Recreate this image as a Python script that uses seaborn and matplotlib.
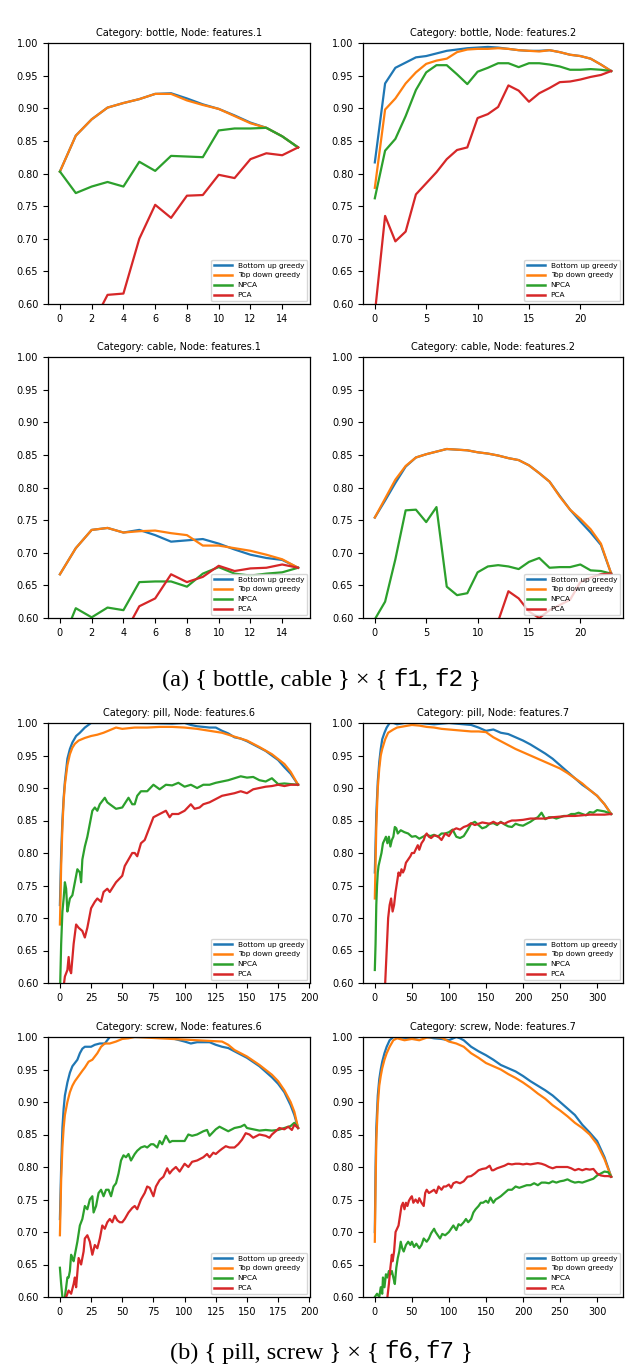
import matplotlib
matplotlib.use("Agg")
import matplotlib.pyplot as plt
import numpy as np
import pandas as pd
import seaborn as sns
from matplotlib.offsetbox import TextArea, HPacker, AnnotationBbox
from matplotlib.ticker import MultipleLocator, FormatStrFormatter

methods = ["Bottom up greedy", "Top down greedy", "NPCA", "PCA"]
colors = ["#1f77b4", "#ff7f0e", "#2ca02c", "#d62728"]

# ---------------- (a) bottle / cable, features.1 / features.2 ----------------
bottle1_bu = [0.803, 0.858, 0.883, 0.901, 0.908, 0.914, 0.922, 0.923, 0.915, 0.906, 0.899, 0.889, 0.878, 0.870, 0.857, 0.840]
bottle1_td = [0.803, 0.858, 0.883, 0.901, 0.908, 0.914, 0.922, 0.922, 0.912, 0.905, 0.899, 0.888, 0.877, 0.870, 0.857, 0.840]
bottle1_npca = [0.803, 0.770, 0.780, 0.787, 0.780, 0.818, 0.804, 0.827, 0.826, 0.825, 0.866, 0.869, 0.869, 0.870, 0.857, 0.840]
bottle1_pca = [0.500, 0.540, 0.567, 0.614, 0.616, 0.700, 0.752, 0.732, 0.766, 0.767, 0.798, 0.793, 0.822, 0.831, 0.828, 0.840]

bottle2_bu = [0.817, 0.938, 0.962, 0.970, 0.978, 0.980, 0.984, 0.988, 0.990, 0.992, 0.993, 0.994, 0.993, 0.991, 0.989, 0.988, 0.988, 0.989, 0.986, 0.982, 0.980, 0.976, 0.967, 0.957]
bottle2_td = [0.778, 0.898, 0.915, 0.938, 0.955, 0.968, 0.973, 0.976, 0.986, 0.990, 0.991, 0.991, 0.992, 0.991, 0.989, 0.988, 0.987, 0.989, 0.986, 0.982, 0.980, 0.976, 0.967, 0.957]
bottle2_npca = [0.762, 0.835, 0.853, 0.888, 0.928, 0.955, 0.966, 0.966, 0.952, 0.937, 0.956, 0.962, 0.969, 0.969, 0.963, 0.969, 0.969, 0.967, 0.964, 0.959, 0.959, 0.960, 0.959, 0.957]
bottle2_pca = [0.585, 0.735, 0.696, 0.711, 0.768, 0.785, 0.802, 0.822, 0.836, 0.840, 0.885, 0.891, 0.902, 0.935, 0.927, 0.910, 0.923, 0.931, 0.940, 0.941, 0.944, 0.948, 0.951, 0.957]

cable1_bu = [0.667, 0.707, 0.735, 0.738, 0.731, 0.735, 0.727, 0.717, 0.719, 0.721, 0.714, 0.705, 0.697, 0.692, 0.689, 0.677]
cable1_td = [0.667, 0.707, 0.735, 0.738, 0.731, 0.733, 0.734, 0.730, 0.727, 0.711, 0.711, 0.707, 0.703, 0.697, 0.690, 0.677]
cable1_npca = [0.555, 0.615, 0.601, 0.616, 0.612, 0.655, 0.656, 0.656, 0.648, 0.668, 0.678, 0.668, 0.665, 0.668, 0.670, 0.677]
cable1_pca = [0.500, 0.520, 0.540, 0.550, 0.573, 0.618, 0.630, 0.667, 0.655, 0.663, 0.680, 0.672, 0.676, 0.677, 0.682, 0.677]

cable2_bu = [0.754, 0.780, 0.807, 0.832, 0.846, 0.851, 0.855, 0.859, 0.858, 0.857, 0.854, 0.852, 0.849, 0.845, 0.842, 0.834, 0.822, 0.809, 0.787, 0.766, 0.748, 0.731, 0.712, 0.668]
cable2_td = [0.754, 0.783, 0.812, 0.833, 0.846, 0.851, 0.855, 0.859, 0.858, 0.857, 0.854, 0.852, 0.849, 0.845, 0.842, 0.834, 0.822, 0.809, 0.786, 0.766, 0.752, 0.736, 0.714, 0.668]
cable2_npca = [0.598, 0.625, 0.690, 0.765, 0.766, 0.747, 0.770, 0.648, 0.635, 0.638, 0.670, 0.679, 0.681, 0.679, 0.675, 0.686, 0.692, 0.677, 0.678, 0.678, 0.682, 0.673, 0.672, 0.668]
cable2_pca = [0.480, 0.500, 0.510, 0.520, 0.530, 0.540, 0.550, 0.560, 0.560, 0.570, 0.570, 0.580, 0.595, 0.641, 0.630, 0.610, 0.600, 0.612, 0.620, 0.628, 0.655, 0.662, 0.667, 0.668]

# ---------------- (b) pill / screw, features.6 / features.7 ----------------
pill6_bu = [(0, 0.72), (1, 0.80), (2, 0.85), (3, 0.885), (4, 0.91), (6, 0.945), (8, 0.96), (10, 0.97), (13, 0.98), (16, 0.985),
            (20, 0.993), (25, 1.0), (30, 1.0), (60, 1.0), (90, 0.999), (100, 1.0), (105, 0.997), (110, 0.995), (115, 0.994),
            (120, 0.993), (125, 0.993), (130, 0.988), (135, 0.984), (140, 0.978), (145, 0.976), (150, 0.972), (155, 0.967),
            (160, 0.962), (165, 0.957), (170, 0.950), (175, 0.943), (180, 0.932), (185, 0.922), (191, 0.905)]
pill6_td = [(0, 0.69), (1, 0.78), (2, 0.84), (3, 0.88), (4, 0.905), (6, 0.935), (8, 0.952), (10, 0.962), (12, 0.968), (15, 0.973),
            (20, 0.977), (25, 0.980), (30, 0.982), (35, 0.985), (40, 0.989), (45, 0.993), (50, 0.991), (55, 0.992), (60, 0.993),
            (70, 0.993), (80, 0.994), (90, 0.994), (100, 0.993), (110, 0.991), (120, 0.988), (130, 0.985), (140, 0.979),
            (150, 0.973), (160, 0.963), (170, 0.952), (180, 0.937), (185, 0.925), (191, 0.905)]
pill6_npca = [(0, 0.58), (1, 0.66), (2, 0.71), (3, 0.73), (4, 0.755), (5, 0.745), (6, 0.71), (7, 0.72), (8, 0.73), (10, 0.735),
              (12, 0.755), (14, 0.775), (16, 0.77), (17, 0.755), (18, 0.79), (20, 0.81), (22, 0.825), (24, 0.845), (26, 0.865),
              (28, 0.87), (30, 0.865), (32, 0.875), (34, 0.88), (36, 0.885), (38, 0.878), (40, 0.875), (45, 0.868), (50, 0.87),
              (55, 0.885), (58, 0.875), (60, 0.875), (62, 0.888), (65, 0.895), (70, 0.895), (75, 0.905), (80, 0.898),
              (85, 0.905), (90, 0.904), (95, 0.908), (100, 0.902), (105, 0.905), (110, 0.900), (115, 0.905), (120, 0.905),
              (125, 0.908), (130, 0.910), (135, 0.912), (140, 0.915), (145, 0.918), (150, 0.916), (155, 0.917), (160, 0.912),
              (165, 0.910), (170, 0.915), (175, 0.906), (180, 0.907), (185, 0.906), (191, 0.905)]
pill6_pca = [(0, 0.55), (2, 0.58), (4, 0.61), (6, 0.62), (7, 0.64), (8, 0.62), (9, 0.615), (11, 0.66), (13, 0.69), (15, 0.685),
             (18, 0.68), (20, 0.67), (22, 0.685), (25, 0.715), (28, 0.725), (30, 0.73), (33, 0.725), (35, 0.74), (38, 0.745),
             (40, 0.74), (45, 0.755), (50, 0.765), (52, 0.78), (55, 0.79), (58, 0.80), (60, 0.80), (62, 0.795), (65, 0.815),
             (68, 0.82), (70, 0.83), (72, 0.84), (75, 0.855), (80, 0.86), (85, 0.865), (88, 0.855), (90, 0.86), (95, 0.86),
             (100, 0.865), (105, 0.875), (108, 0.868), (112, 0.87), (115, 0.875), (120, 0.878), (125, 0.883), (130, 0.888),
             (135, 0.89), (140, 0.892), (145, 0.895), (150, 0.892), (155, 0.898), (160, 0.900), (165, 0.902), (170, 0.903),
             (175, 0.905), (180, 0.903), (185, 0.905), (191, 0.905)]

pill7_bu = [(0, 0.77), (2, 0.86), (4, 0.91), (6, 0.94), (8, 0.96), (10, 0.975), (13, 0.985), (16, 0.993), (20, 1.0), (25, 1.0),
            (30, 0.998), (40, 1.0), (60, 1.0), (80, 0.998), (100, 1.0), (120, 0.998), (130, 0.997), (140, 0.993), (150, 0.988),
            (160, 0.990), (170, 0.985), (180, 0.983), (190, 0.978), (200, 0.973), (210, 0.967), (220, 0.960), (230, 0.953),
            (240, 0.945), (250, 0.935), (260, 0.925), (270, 0.915), (280, 0.905), (290, 0.897), (300, 0.888), (310, 0.875),
            (319, 0.860)]
pill7_td = [(0, 0.73), (2, 0.84), (4, 0.90), (6, 0.93), (8, 0.95), (10, 0.96), (14, 0.975), (18, 0.985), (25, 0.99), (30, 0.993),
            (40, 0.995), (50, 0.997), (60, 0.996), (70, 0.994), (80, 0.993), (90, 0.991), (100, 0.990), (110, 0.989),
            (120, 0.988), (130, 0.987), (140, 0.987), (150, 0.986), (160, 0.978), (170, 0.972), (180, 0.966), (190, 0.960),
            (200, 0.955), (210, 0.950), (220, 0.945), (230, 0.940), (240, 0.935), (250, 0.930), (260, 0.923), (270, 0.915),
            (280, 0.907), (290, 0.897), (300, 0.888), (310, 0.875), (319, 0.860)]
pill7_npca = [(0, 0.62), (1, 0.66), (2, 0.72), (3, 0.75), (4, 0.77), (5, 0.78), (7, 0.79), (9, 0.80), (11, 0.815), (13, 0.82),
              (15, 0.825), (17, 0.815), (19, 0.825), (21, 0.81), (23, 0.82), (25, 0.825), (27, 0.84), (29, 0.838), (31, 0.83),
              (35, 0.835), (40, 0.832), (45, 0.83), (50, 0.825), (55, 0.826), (60, 0.822), (65, 0.825), (70, 0.828),
              (75, 0.826), (80, 0.828), (85, 0.825), (90, 0.83), (95, 0.83), (100, 0.832), (105, 0.836), (110, 0.825),
              (115, 0.823), (120, 0.826), (125, 0.835), (130, 0.845), (135, 0.848), (140, 0.843), (145, 0.838), (150, 0.84),
              (155, 0.845), (160, 0.846), (165, 0.843), (170, 0.848), (175, 0.844), (180, 0.841), (185, 0.84), (190, 0.845),
              (195, 0.843), (200, 0.842), (205, 0.845), (210, 0.848), (215, 0.852), (220, 0.855), (225, 0.862), (230, 0.852),
              (235, 0.855), (240, 0.855), (245, 0.853), (250, 0.855), (255, 0.857), (260, 0.857), (265, 0.86), (270, 0.86),
              (275, 0.862), (280, 0.86), (285, 0.858), (290, 0.863), (295, 0.862), (300, 0.866), (305, 0.865), (310, 0.864),
              (315, 0.862), (319, 0.86)]
pill7_pca = [(0, 0.45), (5, 0.50), (10, 0.56), (14, 0.60), (16, 0.65), (18, 0.70), (20, 0.72), (22, 0.73), (24, 0.71),
             (26, 0.72), (28, 0.74), (30, 0.755), (32, 0.77), (34, 0.765), (36, 0.775), (38, 0.77), (40, 0.775), (42, 0.785),
             (45, 0.79), (48, 0.795), (50, 0.80), (53, 0.80), (55, 0.805), (58, 0.812), (60, 0.805), (63, 0.815), (66, 0.82),
             (68, 0.827), (70, 0.83), (73, 0.825), (76, 0.823), (80, 0.827), (85, 0.826), (90, 0.82), (95, 0.83), (100, 0.826),
             (105, 0.835), (110, 0.838), (115, 0.836), (120, 0.84), (125, 0.842), (130, 0.846), (135, 0.843), (140, 0.845),
             (145, 0.847), (150, 0.846), (155, 0.845), (160, 0.848), (165, 0.845), (170, 0.847), (175, 0.845), (180, 0.848),
             (185, 0.85), (190, 0.85), (200, 0.851), (210, 0.853), (220, 0.853), (230, 0.853), (240, 0.855), (250, 0.856),
             (260, 0.857), (270, 0.857), (280, 0.858), (290, 0.859), (300, 0.859), (310, 0.859), (319, 0.86)]

screw6_bu = [(0, 0.72), (1, 0.80), (2, 0.86), (3, 0.89), (4, 0.91), (6, 0.93), (8, 0.945), (10, 0.955), (12, 0.96), (14, 0.965),
             (16, 0.975), (18, 0.982), (20, 0.985), (25, 0.985), (28, 0.988), (32, 0.99), (36, 0.99), (40, 1.0), (60, 1.0),
             (80, 1.0), (90, 0.998), (100, 0.993), (105, 0.99), (110, 0.992), (120, 0.992), (125, 0.988), (130, 0.985),
             (135, 0.983), (140, 0.978), (150, 0.968), (160, 0.955), (170, 0.938), (175, 0.928), (180, 0.915), (185, 0.895),
             (188, 0.88), (191, 0.86)]
screw6_td = [(0, 0.695), (1, 0.78), (2, 0.83), (3, 0.86), (4, 0.88), (6, 0.90), (8, 0.915), (10, 0.925), (12, 0.932), (15, 0.94),
             (18, 0.948), (20, 0.953), (23, 0.962), (26, 0.965), (30, 0.975), (33, 0.985), (36, 0.99), (40, 0.99), (45, 0.993),
             (50, 0.997), (55, 0.998), (60, 1.0), (70, 0.999), (80, 0.998), (90, 0.997), (100, 0.996), (110, 0.995),
             (120, 0.994), (130, 0.993), (135, 0.988), (140, 0.98), (150, 0.97), (160, 0.957), (170, 0.942), (175, 0.932),
             (180, 0.918), (185, 0.90), (188, 0.885), (191, 0.86)]
screw6_npca = [(0, 0.645), (1, 0.62), (2, 0.60), (3, 0.58), (4, 0.60), (5, 0.615), (6, 0.63), (7, 0.63), (8, 0.64), (9, 0.665),
               (10, 0.66), (11, 0.655), (12, 0.665), (14, 0.685), (16, 0.71), (18, 0.72), (20, 0.74), (22, 0.735), (24, 0.75),
               (26, 0.755), (27, 0.73), (29, 0.74), (31, 0.76), (33, 0.765), (35, 0.755), (37, 0.765), (39, 0.765),
               (41, 0.755), (43, 0.77), (45, 0.775), (47, 0.79), (49, 0.81), (51, 0.818), (53, 0.815), (55, 0.82), (57, 0.81),
               (60, 0.82), (62, 0.825), (65, 0.83), (68, 0.832), (70, 0.83), (73, 0.835), (75, 0.835), (78, 0.83), (80, 0.84),
               (82, 0.835), (85, 0.848), (88, 0.838), (90, 0.84), (95, 0.84), (100, 0.84), (103, 0.85), (106, 0.848),
               (110, 0.85), (115, 0.855), (118, 0.857), (120, 0.848), (125, 0.858), (128, 0.862), (130, 0.86), (135, 0.855),
               (140, 0.86), (145, 0.862), (148, 0.865), (150, 0.86), (155, 0.858), (160, 0.856), (165, 0.857), (170, 0.856),
               (175, 0.857), (180, 0.86), (185, 0.863), (188, 0.868), (191, 0.86)]
screw6_pca = [(0, 0.55), (3, 0.58), (5, 0.60), (7, 0.61), (9, 0.605), (11, 0.62), (12, 0.63), (13, 0.615), (15, 0.66), (17, 0.65),
              (19, 0.67), (20, 0.69), (22, 0.695), (24, 0.685), (26, 0.665), (28, 0.68), (30, 0.675), (32, 0.69), (34, 0.71),
              (36, 0.705), (38, 0.715), (40, 0.72), (42, 0.715), (44, 0.725), (46, 0.718), (48, 0.715), (50, 0.715),
              (52, 0.72), (55, 0.73), (58, 0.737), (60, 0.74), (62, 0.735), (65, 0.75), (68, 0.76), (70, 0.77), (72, 0.768),
              (75, 0.755), (77, 0.77), (80, 0.78), (83, 0.785), (86, 0.798), (88, 0.79), (90, 0.795), (93, 0.80), (96, 0.793),
              (100, 0.805), (103, 0.80), (106, 0.808), (110, 0.81), (115, 0.815), (118, 0.82), (120, 0.815), (123, 0.822),
              (125, 0.82), (128, 0.825), (130, 0.828), (133, 0.832), (136, 0.83), (140, 0.83), (143, 0.835), (146, 0.842),
              (149, 0.852), (152, 0.85), (155, 0.845), (158, 0.848), (160, 0.85), (165, 0.848), (168, 0.845), (170, 0.85),
              (173, 0.855), (176, 0.86), (180, 0.858), (183, 0.862), (186, 0.857), (188, 0.865), (191, 0.86)]

screw7_bu = [(0, 0.70), (1, 0.80), (2, 0.86), (4, 0.91), (6, 0.935), (8, 0.95), (10, 0.962), (13, 0.975), (16, 0.985), (20, 0.995),
             (25, 1.0), (50, 0.998), (60, 1.0), (70, 1.0), (80, 0.998), (90, 0.997), (100, 0.995), (110, 1.0), (115, 0.998),
             (120, 0.995), (130, 0.985), (140, 0.978), (150, 0.972), (160, 0.965), (170, 0.957), (180, 0.952), (190, 0.947),
             (200, 0.94), (210, 0.932), (220, 0.925), (230, 0.918), (240, 0.91), (250, 0.90), (260, 0.89), (270, 0.88),
             (280, 0.865), (290, 0.853), (300, 0.84), (310, 0.815), (319, 0.785)]
screw7_td = [(0, 0.685), (1, 0.77), (2, 0.84), (4, 0.895), (6, 0.925), (8, 0.94), (10, 0.952), (13, 0.965), (16, 0.975),
             (20, 0.985), (25, 0.995), (30, 0.998), (40, 0.995), (50, 0.997), (60, 0.995), (70, 0.999), (80, 1.0), (90, 0.999),
             (100, 0.993), (110, 0.99), (120, 0.985), (130, 0.975), (140, 0.968), (150, 0.96), (160, 0.955), (170, 0.95),
             (180, 0.943), (190, 0.937), (200, 0.93), (210, 0.922), (220, 0.913), (230, 0.905), (240, 0.895), (250, 0.887),
             (260, 0.878), (270, 0.868), (280, 0.86), (290, 0.85), (300, 0.835), (310, 0.812), (319, 0.785)]
screw7_npca = [(0, 0.60), (3, 0.605), (6, 0.60), (8, 0.615), (10, 0.605), (11, 0.63), (13, 0.615), (15, 0.635), (17, 0.63),
               (19, 0.64), (21, 0.635), (23, 0.64), (25, 0.63), (27, 0.62), (29, 0.645), (31, 0.66), (33, 0.67), (35, 0.685),
               (37, 0.675), (39, 0.67), (42, 0.68), (45, 0.685), (48, 0.68), (50, 0.685), (53, 0.677), (56, 0.682), (60, 0.675),
               (63, 0.68), (66, 0.69), (70, 0.685), (73, 0.69), (76, 0.698), (80, 0.705), (82, 0.70), (85, 0.695), (88, 0.69),
               (91, 0.697), (95, 0.695), (100, 0.70), (103, 0.705), (106, 0.71), (110, 0.703), (113, 0.712), (116, 0.71),
               (120, 0.715), (123, 0.72), (126, 0.715), (130, 0.72), (133, 0.73), (136, 0.735), (140, 0.74), (143, 0.745),
               (146, 0.745), (150, 0.748), (153, 0.745), (156, 0.753), (160, 0.745), (163, 0.75), (166, 0.752), (170, 0.755),
               (175, 0.76), (180, 0.765), (185, 0.765), (190, 0.77), (195, 0.768), (200, 0.77), (205, 0.772), (210, 0.772),
               (215, 0.775), (220, 0.772), (225, 0.776), (230, 0.776), (235, 0.775), (240, 0.778), (245, 0.776), (250, 0.778),
               (255, 0.779), (260, 0.781), (265, 0.778), (270, 0.776), (275, 0.777), (280, 0.776), (285, 0.778), (290, 0.78),
               (295, 0.782), (300, 0.787), (305, 0.79), (310, 0.793), (315, 0.792), (319, 0.785)]
screw7_pca = [(0, 0.45), (10, 0.55), (17, 0.60), (19, 0.62), (21, 0.645), (23, 0.665), (24, 0.655), (26, 0.67), (28, 0.70),
              (30, 0.705), (32, 0.71), (34, 0.725), (36, 0.74), (38, 0.745), (40, 0.735), (42, 0.745), (44, 0.74), (46, 0.748),
              (48, 0.752), (50, 0.755), (52, 0.745), (55, 0.75), (58, 0.745), (60, 0.752), (63, 0.745), (66, 0.74), (68, 0.76),
              (70, 0.765), (73, 0.76), (76, 0.762), (80, 0.765), (83, 0.76), (86, 0.77), (90, 0.765), (93, 0.77), (96, 0.77),
              (100, 0.773), (103, 0.768), (106, 0.775), (110, 0.777), (115, 0.775), (120, 0.778), (125, 0.785), (130, 0.786),
              (135, 0.79), (140, 0.795), (145, 0.797), (150, 0.798), (155, 0.802), (158, 0.795), (160, 0.795), (165, 0.798),
              (170, 0.80), (175, 0.802), (180, 0.805), (185, 0.804), (190, 0.805), (195, 0.805), (200, 0.804), (205, 0.805),
              (210, 0.804), (215, 0.805), (220, 0.806), (225, 0.805), (230, 0.803), (235, 0.80), (240, 0.798), (245, 0.80),
              (250, 0.80), (255, 0.80), (260, 0.80), (265, 0.798), (270, 0.795), (275, 0.797), (280, 0.795), (285, 0.797),
              (290, 0.796), (295, 0.797), (300, 0.79), (305, 0.787), (310, 0.786), (315, 0.786), (319, 0.785)]


def long_frame(series):
    """series: list (in method order) of y-lists or (x, y)-point lists."""
    parts = []
    for name, s in zip(methods, series):
        if isinstance(s[0], tuple):
            xs, ys = zip(*s)
        else:
            ys = s
            xs = range(len(s))
        parts.append(pd.DataFrame({"k": list(xs), "auc": list(ys), "method": name}))
    return pd.concat(parts, ignore_index=True)


W, H = 626, 1365
fig = plt.figure(figsize=(W / 100, H / 100), dpi=100)
fig.patch.set_facecolor("white")

cols = [(48, 310), (363, 623)]
rows = [(43, 304), (357, 618), (723, 983), (1037, 1297)]


def make_ax(r, c):
    x0, x1 = cols[c]
    y0, y1 = rows[r]
    return fig.add_axes([x0 / W, 1 - y1 / H, (x1 - x0) / W, (y1 - y0) / H])


panels = [
    (0, 0, "Category: bottle, Node: features.1", [bottle1_bu, bottle1_td, bottle1_npca, bottle1_pca], 2),
    (0, 1, "Category: bottle, Node: features.2", [bottle2_bu, bottle2_td, bottle2_npca, bottle2_pca], 5),
    (1, 0, "Category: cable, Node: features.1", [cable1_bu, cable1_td, cable1_npca, cable1_pca], 2),
    (1, 1, "Category: cable, Node: features.2", [cable2_bu, cable2_td, cable2_npca, cable2_pca], 5),
    (2, 0, "Category: pill, Node: features.6", [pill6_bu, pill6_td, pill6_npca, pill6_pca], 25),
    (2, 1, "Category: pill, Node: features.7", [pill7_bu, pill7_td, pill7_npca, pill7_pca], 50),
    (3, 0, "Category: screw, Node: features.6", [screw6_bu, screw6_td, screw6_npca, screw6_pca], 25),
    (3, 1, "Category: screw, Node: features.7", [screw7_bu, screw7_td, screw7_npca, screw7_pca], 50),
]

for r, c, title, series, xstep in panels:
    ax = make_ax(r, c)
    df = long_frame(series)
    sns.lineplot(data=df, x="k", y="auc", hue="method", hue_order=methods,
                 palette=colors, estimator=None, linewidth=1.6, ax=ax)
    ax.set_ylim(0.6, 1.0)
    ax.set_yticks(np.arange(0.60, 1.001, 0.05))
    ax.yaxis.set_major_formatter(FormatStrFormatter("%.2f"))
    ax.xaxis.set_major_locator(MultipleLocator(xstep))
    ax.set_xlabel("")
    ax.set_ylabel("")
    ax.set_title(title, fontsize=7, pad=5)
    ax.tick_params(labelsize=7, length=3.5, width=0.8)
    for sp in ax.spines.values():
        sp.set_linewidth(0.9)
    old = ax.get_legend()
    handles = old.legend_handles
    labels = [t.get_text() for t in old.get_texts()]
    old.remove()
    leg = ax.legend(handles, labels, loc="lower right", fontsize=5.3, handlelength=2.4,
                    borderaxespad=0.4, framealpha=0.8)
    for h in leg.get_lines():
        h.set_linewidth(1.8)


def caption(pieces, y_px, size=17.5):
    boxes = []
    for txt, mono in pieces:
        fam = "Liberation Mono" if mono else "Liberation Serif"
        boxes.append(TextArea(txt, textprops=dict(family=fam, size=size, color="black")))
    pack = HPacker(children=boxes, align="baseline", pad=0, sep=0)
    ab = AnnotationBbox(pack, (0.513, 1 - y_px / H), xycoords="figure fraction",
                        box_alignment=(0.5, 0.5), frameon=False)
    fig.add_artist(ab)


caption([("(a) { bottle, cable } \u00d7 { ", False), ("f1", True), (", ", False), ("f2", True), (" }", False)], 680)
caption([("(b) { pill, screw } \u00d7 { ", False), ("f6", True), (", ", False), ("f7", True), (" }", False)], 1352)

fig.savefig("out.png", dpi=100, facecolor="white")
